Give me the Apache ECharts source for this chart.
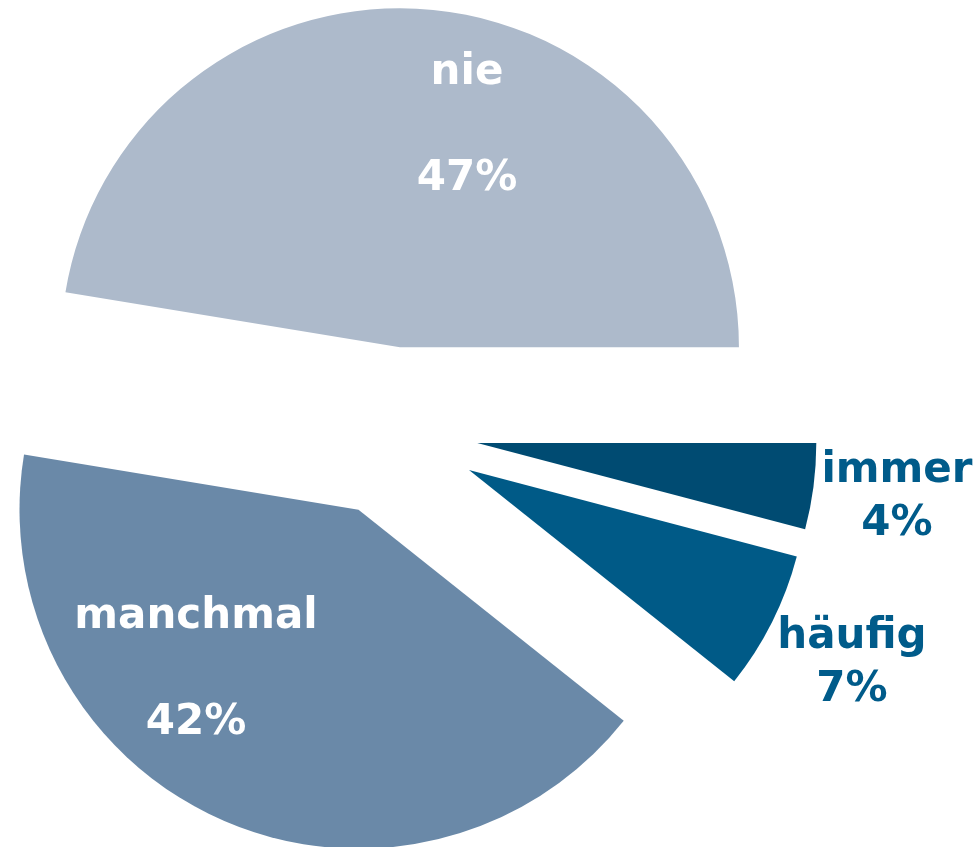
<!DOCTYPE html>
<html>
<head>
<meta charset="utf-8">
<script src="https://cdn.jsdelivr.net/npm/echarts@6/dist/echarts.min.js"></script>
<style>
  html, body { margin: 0; padding: 0; background: #fff; }
  #chart { width: 979px; height: 847px; }
</style>
</head>
<body>
<div id="chart"></div>
<script>
const categories = ['nie', 'manchmal', 'häufig', 'immer'];
// shares; labels show them rounded
const values = [47.4, 41.9, 6.6, 4.1];

const sliceColors = ['#ADBACB', '#6A89A8', '#005A87', '#004B72'];
const labelColors = ['#ffffff', '#ffffff', '#005B8A', '#005B8A'];
// label centres (x, y) for each slice
const labelPos = [[467, 126], [196, 670], [852, 664], [897, 498]];

const pieCenter = [393, 432];
const pieRadius = 339;
const explode = 85;

const chart = echarts.init(document.getElementById('chart'));

const total = values.reduce(function (a, b) { return a + b; }, 0);

// one pie per slice, each shifted out along its own bisector
let startDeg = 0;
const series = categories.map(function (name, i) {
  const span = values[i] / total * 360;
  const mid = (startDeg + span / 2) * Math.PI / 180;
  startDeg += span;
  const cx = pieCenter[0] + explode * Math.cos(mid);
  const cy = pieCenter[1] - explode * Math.sin(mid);
  return {
    type: 'pie',
    name: name,
    center: [cx, cy],
    radius: pieRadius,
    startAngle: 0,
    clockwise: false,
    silent: true,
    avoidLabelOverlap: false,
    emphasis: { scale: false },
    labelLine: { show: false },
    label: {
      show: false,
      position: 'inside',
      fontFamily: 'DejaVu Sans',
      fontWeight: 'bold',
      fontSize: 42,
      lineHeight: 53,
      align: 'center'
    },
    labelLayout: function (params) {
      if (params.dataIndex !== i) return {};
      return { x: labelPos[i][0], y: labelPos[i][1], align: 'center', verticalAlign: 'middle' };
    },
    data: categories.map(function (n, j) {
      return {
        name: n,
        value: values[j],
        itemStyle: { color: j === i ? sliceColors[j] : 'rgba(0,0,0,0)' },
        label: {
          show: j === i,
          color: labelColors[j],
          formatter: function (p) {
            return p.name + (j < 2 ? '\n\n' : '\n') + Math.round(p.value) + '%';
          }
        }
      };
    })
  };
});

chart.setOption({ animation: false, series: series });
</script>
</body>
</html>
